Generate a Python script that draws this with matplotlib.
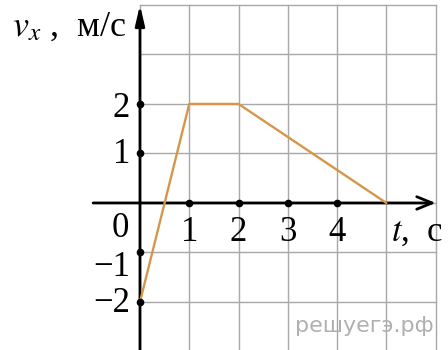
import matplotlib
matplotlib.use('Agg')
import matplotlib.pyplot as plt

plt.rcParams['font.family'] = ['Liberation Serif', 'DejaVu Serif']
plt.rcParams['mathtext.fontset'] = 'stix'

# velocity graph v_x(t)
t_pts = [0, 1, 2, 5]
v_pts = [-2, 2, 2, 0]

t_ticks = [1, 2, 3, 4]
v_ticks = [-2, -1, 1, 2]

grid_t = [0, 1, 2, 3, 4, 5, 6]
grid_v = [-3, -2, -1, 0, 1, 2, 3, 4]

LINE = '#d6964a'
GRID = '#a8a8a8'

fig = plt.figure(figsize=(4.48, 3.5), dpi=100)
ax = fig.add_axes([0, 0, 1, 1])
ax.set_xlim(-2.84, 6.25)
ax.set_ylim(-2.97, 4.10)
ax.axis('off')

# grid
for g in grid_t:
    ax.plot([g, g], [grid_v[0], grid_v[-1]], color=GRID, lw=1.0, zorder=1)
for g in grid_v:
    ax.plot([grid_t[0], grid_t[-1]], [g, g], color=GRID, lw=1.0, zorder=1)

# axes with arrows
ax.annotate('', xy=(6.0, 0), xytext=(-0.95, 0),
            arrowprops=dict(arrowstyle='->,head_length=1.1,head_width=0.45',
                            color='black', lw=2.0, shrinkA=0, shrinkB=0), zorder=3)
ax.annotate('', xy=(0, 4.0), xytext=(0, -3.0),
            arrowprops=dict(arrowstyle='-|>,head_length=1.2,head_width=0.28',
                            color='black', lw=2.0, shrinkA=0, shrinkB=0), zorder=3)

# graph
ax.plot(t_pts, v_pts, color=LINE, lw=1.7, zorder=4, solid_capstyle='round')

# tick dots
ax.plot(t_ticks, [0] * len(t_ticks), 'o', color='black', ms=4.5, zorder=5)
ax.plot([0] * len(v_ticks), v_ticks, 'o', color='black', ms=4.5, zorder=5)

fs = 25
for t in t_ticks:
    ax.text(t, -0.6, str(t), ha='center', va='center', fontsize=fs)
v_lab_y = {2: 1.9, 1: 0.97, -1: -1.31, -2: -2.04}
for v in v_ticks:
    lab = str(v).replace('-', '\u2212')
    ax.text(-0.2, v_lab_y[v], lab, ha='right', va='center', fontsize=fs)
ax.text(-0.4, -0.52, '0', ha='center', va='center', fontsize=fs)

ax.text(5.1, -0.6, r'$t$,  с', ha='left', va='center', fontsize=fs)
ax.text(-2.6, 3.55, r'$v_x$ ,  м/с', ha='left', va='center', fontsize=26)

# watermark
ax.text(5.97, -2.48, 'решуегэ.рф', ha='right', va='center', fontsize=16,
        color='#b0b0b0', family='DejaVu Sans')

fig.savefig('out.png', dpi=100)
